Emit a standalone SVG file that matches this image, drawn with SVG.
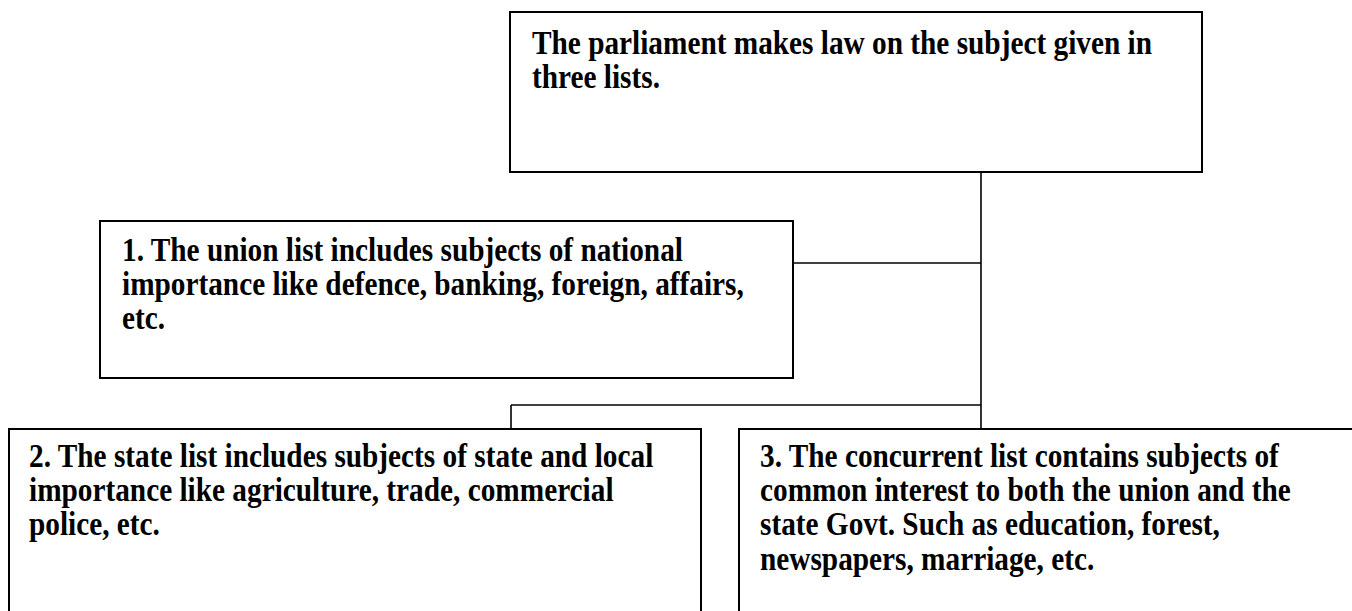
<svg xmlns="http://www.w3.org/2000/svg" width="1352" height="611" viewBox="0 0 1352 611">
<style>
.box{fill:#fff;stroke:#000;stroke-width:2}
.con{stroke:#000;stroke-width:1.6;fill:none}
.t{font-family:"Liberation Serif","Times New Roman",serif;font-weight:bold;font-size:29.3px;fill:#000}
</style>
<rect width="1352" height="611" fill="#fff"/>
<g id="connectors">
<line class="con" x1="981" y1="172" x2="981" y2="430"/>
<line class="con" x1="793" y1="263" x2="981" y2="263"/>
<line class="con" x1="511" y1="405" x2="981" y2="405"/>
<line class="con" x1="511" y1="405" x2="511" y2="430"/>
</g>
<g id="parliament">
<rect class="box" x="510" y="12" width="692" height="160"/>
<g transform="translate(532,54) scale(1,1.13)">
<text class="t" x="0" y="0">The parliament makes law on the subject given in<tspan x="0" dy="30.3">three lists.</tspan></text>
</g>
</g>
<g id="union">
<rect class="box" x="100" y="221" width="693" height="157"/>
<g transform="translate(122,260.5) scale(1,1.13)">
<text class="t" x="0" y="0">1. The union list includes subjects of national<tspan x="0" dy="30.3">importance like defence, banking, foreign, affairs,</tspan><tspan x="0" dy="30.3">etc.</tspan></text>
</g>
</g>
<g id="state">
<rect class="box" x="9" y="429" width="692" height="200"/>
<g transform="translate(29,467) scale(1,1.13)">
<text class="t" x="0" y="0">2. The state list includes subjects of state and local<tspan x="0" dy="30.3">importance like agriculture, trade, commercial</tspan><tspan x="0" dy="30.3">police, etc.</tspan></text>
</g>
</g>
<g id="concurrent">
<rect class="box" x="739" y="429" width="640" height="200"/>
<g transform="translate(760,467) scale(1,1.13)">
<text class="t" x="0" y="0">3. The concurrent list contains subjects of<tspan x="0" dy="30.3">common interest to both the union and the</tspan><tspan x="0" dy="30.3">state Govt. Such as education, forest,</tspan><tspan x="0" dy="30.3">newspapers, marriage, etc.</tspan></text>
</g>
</g>
</svg>
